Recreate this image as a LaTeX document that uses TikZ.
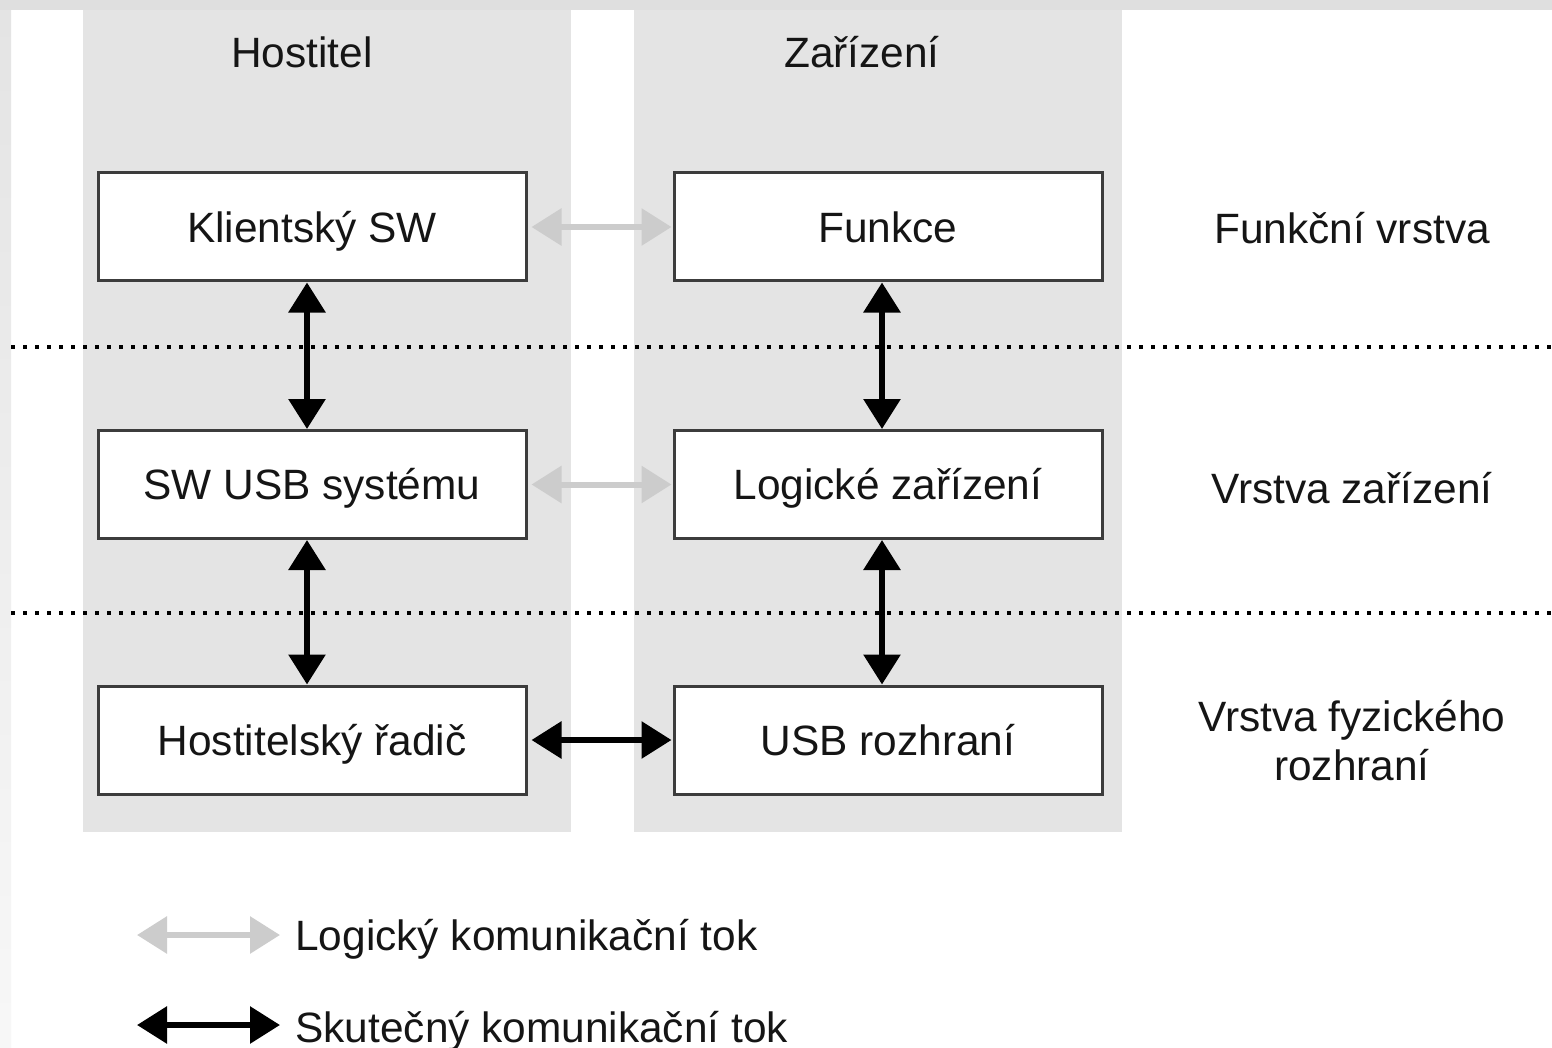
\documentclass[tikz,border=0pt]{standalone}
\usepackage{fontspec}
\setmainfont{Liberation Sans}
\usetikzlibrary{arrows.meta}
\definecolor{panelgray}{HTML}{E4E4E4}
\definecolor{framegray}{HTML}{DFDFDF}
\definecolor{boxline}{HTML}{3C3C3C}
\definecolor{logicgray}{HTML}{CCCCCC}
\definecolor{inktext}{HTML}{151515}
\tikzset{
  txt/.style={font=\fontsize{21.2}{25}\selectfont, text=inktext},
  layerbox/.style={txt, draw=boxline, line width=1.5pt, fill=white, minimum width=214pt,
    minimum height=54pt, inner sep=0pt, text height=15.2pt, text depth=0pt},
  lbl/.style={txt, inner sep=0pt, text height=15.2pt, text depth=0pt},
  realflow/.style={line width=3pt, black, {Triangle[length=15pt,width=18pt]}-{Triangle[length=15pt,width=18pt]}},
  logicflow/.style={line width=3pt, logicgray, {Triangle[length=15pt,width=18pt]}-{Triangle[length=15pt,width=18pt]}},
  layersep/.style={line width=1.9pt, black, dash pattern=on 2pt off 4pt}
}
\begin{document}
\begin{tikzpicture}[x=0.5pt,y=-0.5pt]
% canvas and frame strips
\fill[white] (0,0) rectangle (1552,1048);
\useasboundingbox (0,0) rectangle (1552,1048);
\shade[top color=panelgray, bottom color=white!97!black] (0,10) rectangle (11,1048);
\fill[framegray] (0,0) rectangle (1552,10);
% host and device columns
\fill[panelgray] (83,10) rectangle (571,832);
\fill[panelgray] (634,10) rectangle (1122,832);
\node[lbl] (hosthead) at (302,52) {Hostitel};
\node[lbl] (devhead) at (862,52) {Zařízení};
% layer separators
\coordinate (sepAl) at (11,347);
\coordinate (sepAr) at (1552,347);
\coordinate (sepBl) at (11,613);
\coordinate (sepBr) at (1552,613);
\draw[layersep] (sepAl) -- (sepAr);
\draw[layersep] (sepBl) -- (sepBr);
% boxes
\node[layerbox] (client) at (312,227) {Klientský SW};
\node[layerbox] (func)   at (888,227) {Funkce};
\node[layerbox] (usbsw)  at (312,484.5) {SW USB systému};
\node[layerbox] (logdev) at (888,484.5) {Logické zařízení};
\node[layerbox] (hostc)  at (312,740) {Hostitelský řadič};
\node[layerbox] (usbif)  at (888,740) {USB rozhraní};
% layer labels
\node[lbl] (lay1) at (1352,228) {Funkční vrstva};
\node[lbl] (lay2) at (1352,488) {Vrstva zařízení};
\node[txt, inner sep=0pt, align=center, font=\fontsize{21.2}{24.5}\selectfont] (lay3) at (1352,741) {Vrstva fyzického\\rozhraní};
% connectors
\draw[realflow] (client.south -| 307,0) -- (usbsw.north -| 307,0);
\draw[realflow] (usbsw.south -| 307,0) -- (hostc.north -| 307,0);
\draw[realflow] (func.south -| 882,0) -- (logdev.north -| 882,0);
\draw[realflow] (logdev.south -| 882,0) -- (usbif.north -| 882,0);
\draw[logicflow, shorten <=2pt, shorten >=0.5pt] (client.east) -- (func.west);
\draw[logicflow, shorten <=2pt, shorten >=0.5pt] (usbsw.east) -- (logdev.west);
\draw[realflow, shorten <=2pt, shorten >=0.5pt] (hostc.east) -- (usbif.west);
% legend
\coordinate (lgA1) at (137,935);
\coordinate (lgA2) at (280,935);
\coordinate (lgB1) at (137,1025);
\coordinate (lgB2) at (280,1025);
\draw[logicflow] (lgA1) -- (lgA2);
\draw[realflow] (lgB1) -- (lgB2);
\node[lbl, anchor=west] (lgtxtA) at (295,935) {Logický komunikační tok};
\node[lbl, anchor=west] (lgtxtB) at (295,1027) {Skutečný komunikační tok};
\end{tikzpicture}
\end{document}
